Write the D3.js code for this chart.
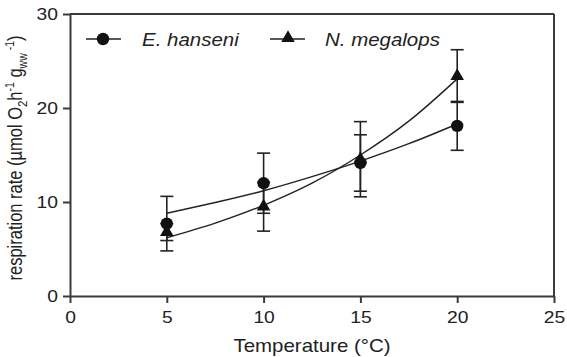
<!DOCTYPE html>
<html><head><meta charset="utf-8">
<script src="https://cdn.jsdelivr.net/npm/d3@7"></script>
<style>body{margin:0;background:#fff}svg{display:block}text{font-family:"Liberation Sans",Arial,sans-serif;fill:#222}</style>
</head><body><svg id="c" width="567" height="357"></svg>
<script>
const temps = [5, 10, 15, 20];
const hanseniMean = [7.7, 12.0, 14.15, 18.1];
const hanseniErr = [2.9, 3.2, 3.0, 2.6];
const megalopsMean = [6.8, 9.5, 14.55, 23.4];
const megalopsErr = [0.9, 2.6, 4.0, 2.8];
const fitX = [5, 7.5, 10, 12.5, 15, 17.5, 20];
const hanseniFit = [8.8, 9.95, 11.2, 12.7, 14.35, 16.2, 18.3];
const megalopsFit = [6.2, 7.75, 9.65, 12.0, 15.0, 18.6, 23.1];
const xTicks = [0, 5, 10, 15, 20, 25];
const yTicks = [0, 10, 20, 30];
const seriesNames = ["E. hanseni", "N. megalops"];

const svg = d3.select("#c");
const x = d3.scaleLinear().domain([0, 25]).range([70, 554]);
const y = d3.scaleLinear().domain([0, 30]).range([296, 14]);
const SX = 1.17;
const axisCol = "#3a3a3a";

// frame top & right
svg.append("line").attr("x1", x(0)).attr("x2", x(25)).attr("y1", y(30)).attr("y2", y(30)).attr("stroke", axisCol).attr("stroke-width", 2);
svg.append("line").attr("x1", x(25)).attr("x2", x(25)).attr("y1", y(30)).attr("y2", y(0)).attr("stroke", axisCol).attr("stroke-width", 2);

const xa = svg.append("g").attr("transform", `translate(0,${y(0)})`)
  .call(d3.axisBottom(x).tickValues(xTicks).tickSize(7).tickSizeOuter(0).tickFormat(d3.format("d")));
const ya = svg.append("g").attr("transform", `translate(${x(0)},0)`)
  .call(d3.axisLeft(y).tickValues(yTicks).tickSize(7).tickSizeOuter(0).tickFormat(d3.format("d")));
[xa, ya].forEach(a => {
  a.select(".domain").attr("stroke", axisCol).attr("stroke-width", 2);
  a.selectAll(".tick line").attr("stroke", axisCol).attr("stroke-width", 2);
  a.selectAll(".tick text").attr("font-size", 16.5).attr("fill", "#222");
});
xa.selectAll(".tick text").attr("y", 0).attr("dy", 0)
  .attr("transform", `translate(0,27) scale(${SX},1)`);
ya.selectAll(".tick text").attr("x", 0).attr("dy", "0.36em")
  .attr("transform", `translate(-12,0) scale(${SX},1)`);

// axis titles
svg.append("text").attr("transform", `translate(${(x(0) + x(25)) / 2},352) scale(${SX},1)`)
  .attr("text-anchor", "middle").attr("font-size", 17.5).text("Temperature (°C)");

const yl = svg.append("text").attr("transform", `translate(22,158) scale(${SX},1) rotate(-90)`)
  .attr("text-anchor", "middle").attr("font-size", 16.5);
yl.append("tspan").text("respiration rate (µmol O");
yl.append("tspan").attr("font-size", 11.5).attr("dy", 4).text("2");
yl.append("tspan").attr("dy", -4).text("h");
yl.append("tspan").attr("font-size", 10.5).attr("dy", -7).text("-1");
yl.append("tspan").attr("dy", 7).text("  g");
yl.append("tspan").attr("font-size", 10.5).attr("dy", 4).text("ww");
yl.append("tspan").attr("font-size", 10.5).attr("dy", -11).text(" -1");
yl.append("tspan").attr("dy", 7).text(")");

// fit curves
const line = d3.line().x(d => x(d[0])).y(d => y(d[1])).curve(d3.curveMonotoneX);
[hanseniFit, megalopsFit].forEach(f => {
  svg.append("path").attr("d", line(fitX.map((t, i) => [t, f[i]])))
    .attr("fill", "none").attr("stroke", "#222").attr("stroke-width", 1.4);
});

// error bars
function errBars(mean, err) {
  temps.forEach((t, i) => {
    const g = svg.append("g").attr("stroke", "#222").attr("stroke-width", 1.6);
    const cx = x(t), top = y(mean[i] + err[i]), bot = y(mean[i] - err[i]);
    g.append("line").attr("x1", cx).attr("x2", cx).attr("y1", top).attr("y2", bot);
    g.append("line").attr("x1", cx - 6.5).attr("x2", cx + 6.5).attr("y1", top).attr("y2", top);
    g.append("line").attr("x1", cx - 6.5).attr("x2", cx + 6.5).attr("y1", bot).attr("y2", bot);
  });
}
errBars(megalopsMean, megalopsErr);
errBars(hanseniMean, hanseniErr);

const tri = d3.symbol().type(d3.symbolTriangle).size(80);
temps.forEach((t, i) => {
  svg.append("path").attr("d", tri()).attr("transform", `translate(${x(t)},${y(megalopsMean[i])})`).attr("fill", "#111");
});
temps.forEach((t, i) => {
  svg.append("circle").attr("cx", x(t)).attr("cy", y(hanseniMean[i])).attr("r", 6.2).attr("fill", "#111");
});

// legend
const lg = svg.append("g");
lg.append("line").attr("x1", 86).attr("x2", 121).attr("y1", 39).attr("y2", 39).attr("stroke", "#222").attr("stroke-width", 1.6);
lg.append("circle").attr("cx", 103).attr("cy", 39).attr("r", 6.2).attr("fill", "#111");
lg.append("text").attr("transform", `translate(142,45.5) scale(${SX},1)`).attr("font-size", 17.5).attr("font-style", "italic").text(seriesNames[0]);
lg.append("line").attr("x1", 270).attr("x2", 305).attr("y1", 39).attr("y2", 39).attr("stroke", "#222").attr("stroke-width", 1.6);
lg.append("path").attr("d", tri()).attr("transform", "translate(288,38)").attr("fill", "#111");
lg.append("text").attr("transform", `translate(325,45.5) scale(${SX},1)`).attr("font-size", 17.5).attr("font-style", "italic").text(seriesNames[1]);
</script></body></html>
